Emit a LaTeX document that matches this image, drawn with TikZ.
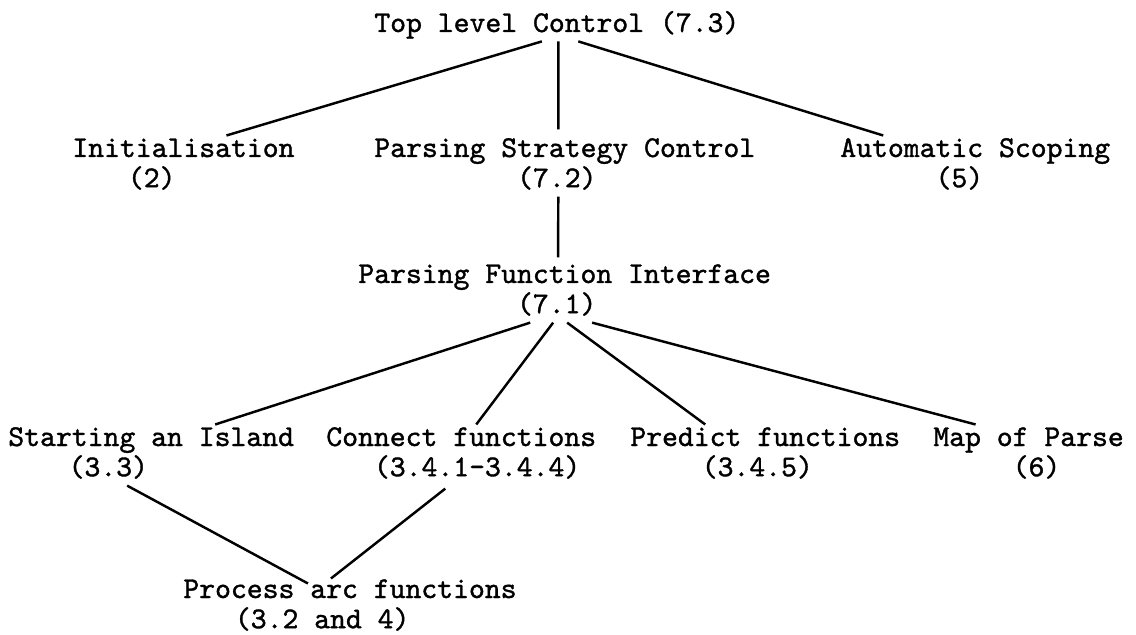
\documentclass[tikz,border=0pt]{standalone}
\usepackage{fontspec}
\newfontfamily\typer{lmmono10-regular.otf}[AutoFakeBold=1.2]

% leading blank of n typewriter cells
\newcommand{\pad}[1]{\hspace*{#1\fontcharwd\font`M}}

\begin{document}
\begin{tikzpicture}[x=0.2mm, y=-0.2mm,
    lbl/.style={anchor=base west, inner sep=0pt, font=\typer\bfseries\fontsize{17.2}{17.2}\selectfont},
    link/.style={line width=1.4pt}]
	\useasboundingbox (0,0) rectangle (1136,635);

	\node[lbl] (top) at (374,32) {\begin{tabular}[t]{@{}l@{}} Top level Control (7.3) \end{tabular}};

	\node[lbl] (init) at (72,157) {\begin{tabular}[t]{@{}l@{}} Initialisation \\ \pad{3.5}(2) \end{tabular}};
	\node[lbl] (psc) at (374,157) {\begin{tabular}[t]{@{}l@{}} Parsing Strategy Control \\ \pad{9}(7.2) \end{tabular}};
	\node[lbl] (scoping) at (840,157) {\begin{tabular}[t]{@{}l@{}} Automatic Scoping \\ \pad{6}(5) \end{tabular}};

	\node[lbl] (pfi) at (358,283) {\begin{tabular}[t]{@{}l@{}} Parsing Function Interface \\ \pad{10}(7.1) \end{tabular}};

	\node[lbl] (island) at (8,446) {\begin{tabular}[t]{@{}l@{}} Starting an Island \\ \pad{3.8}(3.3) \end{tabular}};
	\node[lbl] (connect) at (326,446) {\begin{tabular}[t]{@{}l@{}} Connect functions \\ \pad{3}(3.4.1-3.4.4) \end{tabular}};
	\node[lbl] (predict) at (630,446) {\begin{tabular}[t]{@{}l@{}} Predict functions \\ \pad{4.5}(3.4.5) \end{tabular}};
	\node[lbl] (map) at (933,446) {\begin{tabular}[t]{@{}l@{}} Map of Parse \\ \pad{5}(6) \end{tabular}};

	\node[lbl] (process) at (183,598) {\begin{tabular}[t]{@{}l@{}} Process arc functions \\ \pad{3.25}(3.2 and 4) \end{tabular}};

	% top level
	\draw[link] ([shift={(-15,0)}]top.south) -- ([shift={(43,0)}]init.north);
	\draw[link] ([shift={(1.5,0)}]top.south) -- ([shift={(-6.5,-6)}]psc.north);
	\draw[link] ([shift={(21.5,0)}]top.south) -- ([shift={(-92,0)}]scoping.north);
	\draw[link] ([shift={(-6.5,0)}]psc.south) -- ([shift={(-6.5,-4)}]pfi.north);

	% parsing functions
	\draw[link] ([shift={(-34.5,0)}]pfi.south) -- ([shift={(64,0)}]island.north);
	\draw[link] ([shift={(-11.5,0)}]pfi.south) -- ([shift={(15,0)}]connect.north);
	\draw[link] ([shift={(2.5,0)}]pfi.south) -- ([shift={(-60,0)}]predict.north);
	\draw[link] ([shift={(27.5,0)}]pfi.south) -- ([shift={(-53,0)}]map.north);

	% arc processing
	\draw[link] ([shift={(-24,0)}]island.south) -- ([shift={(-42,7)}]process.north);
	\draw[link] ([shift={(-16,3)}]connect.south) -- ([shift={(-19,2)}]process.north);
\end{tikzpicture}
\end{document}
